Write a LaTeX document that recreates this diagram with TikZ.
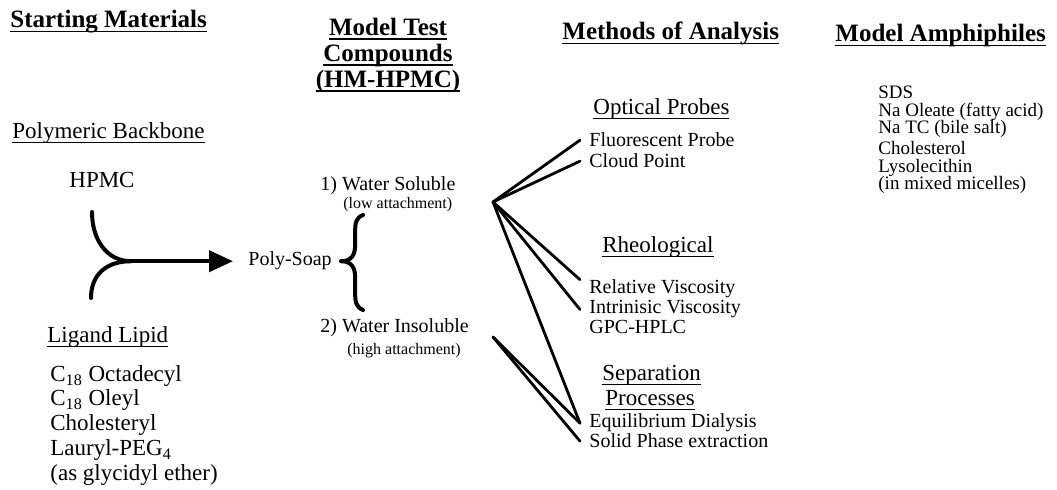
\documentclass[tikz,border=0pt]{standalone}
\usepackage{fontspec}
\setmainfont{Liberation Serif}
\usetikzlibrary{arrows.meta}

% underline with a heavier rule, as in the scan
\newcommand\uln[1]{\setbox0\hbox{#1}\rlap{\rule[-2.2pt]{\wd0}{0.9pt}}\box0}

\tikzset{
  head/.style={font=\fontsize{12.5}{13}\selectfont\bfseries, inner sep=0pt, anchor=base west},
  subhead/.style={font=\fontsize{11.5}{12.5}\selectfont, inner sep=0pt, anchor=base west},
  entry/.style={font=\fontsize{10}{10}\selectfont, inner xsep=4.5pt, inner ysep=0pt, anchor=base west},
  tight/.style={entry, font=\fontsize{9.5}{9.5}\selectfont},
  small/.style={font=\fontsize{8}{8}\selectfont, inner xsep=4.5pt, inner ysep=0pt, anchor=base west},
  merge/.style={line width=2pt, line cap=round},
  spoke/.style={line width=1.4pt, line cap=round},
}

\begin{document}
\begin{tikzpicture}[x=0.5pt, y=-0.5pt]
  \useasboundingbox (0,0) rectangle (1057,490);

  % column heads
  \node[head] (sm) at (10,28) {\uln{Starting Materials}};
  \node[head, anchor=north, align=center] (mtc) at (388,18) {\uln{Model Test}\\\uln{Compounds}\\\uln{(HM-HPMC)}};
  \node[head] (moa) at (562,40) {\uln{Methods of Analysis}};
  \node[head] (ma) at (835,42) {\uln{Model Amphiphiles}};

  % starting materials
  \node[subhead] (pb) at (12,139) {\uln{Polymeric Backbone}};
  \node[subhead, anchor=base] (hpmc) at (102,188) {HPMC};
  \node[subhead] (ll) at (47,343) {\uln{Ligand Lipid}};
  \node[subhead] (lp1) at (50,382) {C\textsubscript{18} Octadecyl};
  \node[subhead] (lp2) at (50,406) {C\textsubscript{18} Oleyl};
  \node[subhead] (lp3) at (50,431) {Cholesteryl};
  \node[subhead] (lp4) at (50,456) {Lauryl-PEG\textsubscript{4}};
  \node[subhead] (lp5) at (50,481) {(as glycidyl ether)};

  % test compounds
  \node[entry] (ps) at (239,266) {Poly-Soap};
  \node[entry] (ws) at (311,191) {1) Water Soluble};
  \node[small] (la) at (334,209) {(low attachment)};
  \node[entry] (wi) at (311,333) {2) Water Insoluble};
  \node[small] (ha) at (338,355) {(high attachment)};

  % methods of analysis
  \node[subhead] (op) at (593,115) {\uln{Optical Probes}};
  \node[entry] (fp) at (580,147) {Fluorescent Probe};
  \node[entry] (cp) at (580,168) {Cloud Point};
  \node[subhead] (rh) at (602,253) {\uln{Rheological}};
  \node[entry] (rv) at (580,294) {Relative Viscosity};
  \node[entry] (iv) at (580,314) {Intrinisic Viscosity};
  \node[entry] (gpc) at (580,334) {GPC-HPLC};
  \node[subhead] (sep) at (602,381) {\uln{Separation}};
  \node[subhead] (proc) at (605,406) {\uln{Processes}};
  \node[entry] (ed) at (580,428) {Equilibrium Dialysis};
  \node[entry] (spe) at (580,448) {Solid Phase extraction};

  % amphiphiles
  \node[tight] (sds) at (869,99) {SDS};
  \node[tight] (nao) at (869,116.5) {Na Oleate (fatty acid)};
  \node[tight] (natc) at (869,134) {Na TC (bile salt)};
  \node[tight] (chol) at (869,155) {Cholesterol};
  \node[tight] (lyso) at (869,172.5) {Lysolecithin};
  \node[tight] (mix) at (869,190) {(in mixed micelles)};

  % backbone + lipid -> poly-soap
  \coordinate (up) at (92,212);
  \coordinate (dn) at (91,298);
  \coordinate (jn) at ([xshift=-54pt]ps.west);
  \draw[merge] (up) .. controls +(0,28) and +(-24,0) .. (jn);
  \draw[merge] (dn) .. controls +(0,-24) and +(-24,0) .. (jn);
  \draw[merge, -{Triangle[length=12pt,width=10.5pt]}, shorten >=3pt] (jn) -- (ps.west);

  % brace
  \coordinate (btop) at (363,215);
  \coordinate (bbot) at (363,310);
  \draw[merge] (ps.east) .. controls +(10,0) and +(0,10) .. ++(14,-16) -- ++(0,-13)
     .. controls +(0,-10) and +(-7,3) .. (btop);
  \draw[merge] (ps.east) .. controls +(10,0) and +(0,-10) .. ++(14,16) -- ++(0,15)
     .. controls +(0,10) and +(-7,-3) .. (bbot);

  % fans to the methods
  \coordinate (hub1) at (493,202);
  \coordinate (hub2) at (493,337);
  \draw[spoke] (hub1) -- (fp.west);
  \draw[spoke] (hub1) -- (cp.west);
  \draw[spoke] (hub1) -- (rv.north west);
  \draw[spoke] (hub1) -- (iv.west);
  \draw[spoke] (hub1) -- (ed.west);
  \draw[spoke] (hub2) -- (ed.west);
  \draw[spoke] (hub2) -- (spe.west);
\end{tikzpicture}
\end{document}
